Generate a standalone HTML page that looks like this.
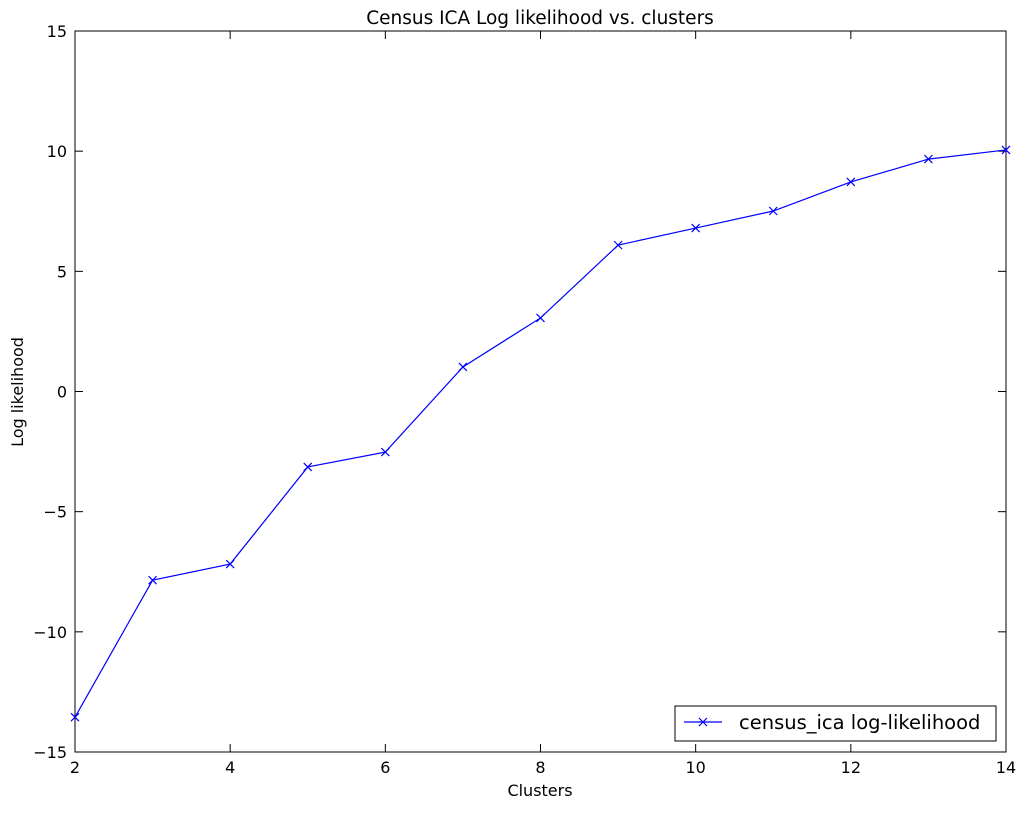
<!DOCTYPE html>
<html><head><meta charset="utf-8"><style>
body{margin:0;background:#fff;}
svg text{font-family:"DejaVu Sans","Liberation Sans",sans-serif;}
</style></head><body>
<svg id="chart" width="1026" height="810" xmlns="http://www.w3.org/2000/svg">
<rect width="1026" height="810" fill="#fff"/>
<g id="axes"></g>
<text x="540" y="24" font-size="18.5" text-anchor="middle">Census ICA Log likelihood vs. clusters</text>
<text x="540" y="796" font-size="16" text-anchor="middle">Clusters</text>
<text x="0" y="0" font-size="16" text-anchor="middle" transform="translate(23,392) rotate(-90)">Log likelihood</text>
<g>
<rect x="675" y="706" width="321" height="35" fill="#fff" stroke="#000" stroke-width="1"/>
<line x1="684" y1="722" x2="722" y2="722" stroke="#0000ff" stroke-width="1.2"/>
<path d="M699,718 l8,8 M707,718 l-8,8" stroke="#0000ff" stroke-width="1.2"/>
<text x="739" y="729" font-size="19.5">census_ica log-likelihood</text>
</g>
</svg>
<script>
const clusters=[2,3,4,5,6,7,8,9,10,11,12,13,14];
const logLik=[-13.55,-7.85,-7.18,-3.14,-2.52,1.02,3.06,6.09,6.80,7.51,8.72,9.67,10.05];
const xTicks=[2,4,6,8,10,12,14];
const yTicks=[-15,-10,-5,0,5,10,15];
const yTickLabels=["\u221215","\u221210","\u22125","0","5","10","15"];
const L=75,R=1006,T=31,B=752;
const xs=v=>L+(v-2)/12*(R-L);
const ys=v=>B-(v+15)/30*(B-T);
const NS="http://www.w3.org/2000/svg";
const g=document.getElementById('axes');
function mk(t,a){const e=document.createElementNS(NS,t);for(const k in a)e.setAttribute(k,a[k]);g.appendChild(e);return e;}
const frame=mk('rect',{x:L,y:T,width:R-L,height:B-T,fill:'none',stroke:'#000','stroke-width':1});


xTicks.forEach(v=>{const x=xs(v);
mk('line',{x1:x,y1:B,x2:x,y2:B-8,stroke:'#000'});mk('line',{x1:x,y1:T,x2:x,y2:T+8,stroke:'#000'});
const t=mk('text',{x:x,y:B+21,'font-size':16,'text-anchor':'middle'});t.textContent=v;

});
yTicks.forEach((v,i)=>{const y=ys(v);
mk('line',{x1:L,y1:y,x2:L+8,y2:y,stroke:'#000'});mk('line',{x1:R,y1:y,x2:R-8,y2:y,stroke:'#000'});
const t=mk('text',{x:L-8,y:y+6,'font-size':16,'text-anchor':'end'});t.textContent=yTickLabels[i];

});
const pts=clusters.map((c,i)=>xs(c)+','+ys(logLik[i])).join(' ');
const line=mk('polyline',{points:pts,fill:'none',stroke:'#0000ff','stroke-width':1.2});


clusters.forEach((c,i)=>{const x=xs(c),y=ys(logLik[i]);
const m=mk('path',{d:`M${x-4},${y-4} L${x+4},${y+4} M${x+4},${y-4} L${x-4},${y+4}`,stroke:'#0000ff','stroke-width':1.2});

});
</script>
</body></html>
